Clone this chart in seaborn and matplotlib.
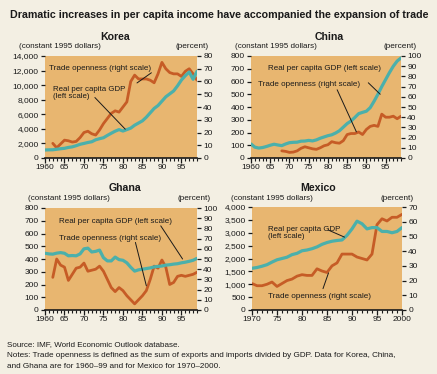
import matplotlib
matplotlib.use("Agg")
import matplotlib.pyplot as plt
import seaborn as sns
import pandas as pd
import numpy as np

# ---------------- data ----------------
korea_years = list(range(1960, 2000))
korea_gdp = [1100, 1120, 1130, 1200, 1270, 1330, 1450, 1530, 1690, 1880,
             2000, 2130, 2230, 2500, 2650, 2780, 3100, 3400, 3680, 3900,
             3700, 3900, 4100, 4500, 4800, 5100, 5600, 6200, 6800, 7200,
             7800, 8400, 8800, 9200, 9900, 10700, 11300, 11800, 10800, 11900]
korea_trade_years = list(range(1962, 2000))
korea_trade = [11.5, 8, 11, 14, 13.5, 12.5, 13, 16, 20, 21,
               19, 18, 22, 27, 31, 35, 37, 36, 40, 44,
               60, 65, 62, 62, 62, 61, 59, 66, 75, 70,
               67, 66, 66, 64, 68, 70, 66, 61]

china_years = list(range(1960, 2000))
china_gdp = [110, 85, 78, 82, 90, 100, 108, 102, 97, 110,
             120, 123, 124, 132, 133, 138, 134, 142, 155, 165,
             175, 182, 196, 214, 242, 270, 290, 318, 348, 358,
             367, 395, 445, 500, 560, 615, 670, 720, 760, 785]
china_trade_years = list(range(1968, 2000))
china_trade = [7, 6.5, 5.5, 5.8, 7, 9.5, 11, 10, 9, 8.5,
               10, 12, 13, 16, 15, 14.5, 17, 23, 24, 24,
               25.5, 23, 28, 31, 32, 31, 43, 40, 40, 41, 38.5, 41]

ghana_years = list(range(1960, 2000))
ghana_gdp = [445, 440, 438, 446, 450, 445, 425, 427, 425, 440,
             480, 485, 455, 460, 470, 410, 385, 385, 415, 395,
             390, 370, 335, 305, 315, 320, 325, 330, 338, 342,
             345, 352, 355, 360, 363, 370, 375, 382, 390, 405]
ghana_trade_years = list(range(1962, 2000))
ghana_trade = [32, 50, 44, 42, 29, 35, 41, 42, 46, 38,
               39, 40, 43, 38, 30, 22, 18, 22, 19, 14,
               10, 6, 10, 14, 19, 30, 43, 41, 49, 42,
               25, 27, 33, 34, 33, 34, 35, 37]

mexico_years = list(range(1970, 2001))
mexico_gdp = [1620, 1650, 1700, 1760, 1860, 1950, 2000, 2050, 2150, 2200,
              2300, 2330, 2380, 2450, 2550, 2620, 2670, 2700, 2720, 2900,
              3150, 3450, 3350, 3150, 3200, 3200, 3050, 3050, 3000, 3050, 3200]
mexico_trade = [18, 16.5, 16.5, 17.5, 19, 16, 18, 20, 21, 23,
                24, 23.5, 23.5, 28, 26.5, 25.5, 30, 32, 38, 38,
                38, 36, 35, 34, 38, 58, 62, 60.5, 63, 63, 65]

title = "Dramatic increases in per capita income have accompanied the expansion of trade"
source_note = "Source: IMF, World Economic Outlook database."
notes_1 = "Notes: Trade openness is defined as the sum of exports and imports divided by GDP. Data for Korea, China,"
notes_2 = "and Ghana are for 1960\u201399 and for Mexico for 1970\u20132000."

# ---------------- style ----------------
sns.set_theme(style="white")
plt.rcParams["font.family"] = ["Liberation Sans", "DejaVu Sans"]

BG = "#F3EFE3"
PANEL = "#E8B670"
ORANGE = "#C65C26"
TEAL = "#4BB0AB"
INK = "#1a1a1a"
TICK_FS = 6.0

W, H = 437, 374
fig = plt.figure(figsize=(W / 100, H / 100), dpi=100, facecolor=BG)
to_fit = []  # (text artist, target width in px)


def fx(x):
    return x / W


def fy(y):
    return 1 - y / H


t = fig.text(fx(219), fy(15), title, ha="center", va="center", fontsize=9,
             fontweight="bold", color=INK)
to_fit.append((t, 418))


def panel(rect_px, name, title_x, units_left_x, units_right_x, title_y,
          years, gdp, tyears, trade, xlim, xmajor, xlabels,
          lmax, lstep, rmax, rstep, annots):
    x0, y0, x1, y1 = rect_px
    ax = fig.add_axes([fx(x0), fy(y1), (x1 - x0) / W, (y1 - y0) / H])
    ax2 = ax.twinx()
    df1 = pd.DataFrame({"year": years, "value": gdp})
    df2 = pd.DataFrame({"year": tyears, "value": trade})
    sns.lineplot(data=df2, x="year", y="value", ax=ax2, color=ORANGE, lw=2.0)
    sns.lineplot(data=df1, x="year", y="value", ax=ax, color=TEAL, lw=2.3)
    ax.set_zorder(ax2.get_zorder() + 1)
    ax.patch.set_visible(False)
    ax2.patch.set_visible(True)
    ax2.set_facecolor(PANEL)

    ax.set_xlim(*xlim)
    ax.set_ylim(0, lmax)
    ax2.set_ylim(0, rmax)
    for a in (ax, ax2):
        a.set_xlabel("")
        a.set_ylabel("")
        a.grid(False)
        for s in a.spines.values():
            s.set_visible(False)

    lticks = np.arange(0, lmax + 1, lstep)
    ax.set_yticks(lticks)
    ax.set_yticklabels([f"{int(v):,}" for v in lticks])
    rticks = np.arange(0, rmax + 1, rstep)
    ax2.set_yticks(rticks)
    ax2.set_yticklabels([f"{int(v)}" for v in rticks])
    ax.set_xticks(xmajor)
    ax.set_xticklabels(xlabels)
    ax.set_xticks(np.arange(xlim[0], xlim[1] + 1, 1), minor=True)

    ax.spines["bottom"].set_visible(True)
    ax.spines["bottom"].set_color(INK)
    ax.spines["bottom"].set_linewidth(1.2)

    ax.tick_params(axis="x", which="major", direction="out", length=3.5, width=0.9,
                   color=INK, labelsize=TICK_FS, pad=1, labelcolor=INK, bottom=True)
    ax.tick_params(axis="x", which="minor", direction="out", length=2.2, width=0.8,
                   color=INK, bottom=True)
    ax.tick_params(axis="y", direction="out", length=3, width=0.9, color=INK,
                   labelsize=TICK_FS, pad=1.5, labelcolor=INK, left=True)
    ax2.tick_params(axis="y", direction="out", length=3, width=0.9, color=INK,
                    labelsize=TICK_FS, pad=1.5, labelcolor=INK, right=True)

    fig.text(fx(title_x), fy(title_y), name, ha="center", va="center",
             fontsize=7.6, fontweight="bold", color=INK)
    t2 = fig.text(fx(units_left_x), fy(title_y + 10), "(constant 1995 dollars)",
                  ha="left", va="center", fontsize=7, color=INK)
    to_fit.append((t2, 82))
    t3 = fig.text(fx(units_right_x), fy(title_y + 10), "(percent)",
                  ha="right", va="center", fontsize=7, color=INK)
    to_fit.append((t3, 33))

    for text, width, tx, ty, p0, p1 in annots:
        ta = ax.text(tx, ty, text, ha="left", va="center", fontsize=7, color=INK,
                     linespacing=1.0, zorder=5)
        to_fit.append((ta, width))
        ax.plot([p0[0], p1[0]], [p0[1], p1[1]], color=INK, lw=0.7, zorder=5)
    return ax


# Korea
panel((45, 56, 197, 158), "Korea", 115, 19, 209, 37,
      korea_years, korea_gdp, korea_trade_years, korea_trade,
      (1960, 1999), [1960, 1965, 1970, 1975, 1980, 1985, 1990, 1995],
      ["1960", "65", "70", "75", "80", "85", "90", "95"],
      14000, 2000, 80, 10,
      [("Trade openness (right scale)", 102, 1961.0, 12250, (1987.3, 11700), (1983.6, 10300)),
       ("Real per capita GDP\n(left scale)", 72, 1962.0, 8950, (1972.8, 8300), (1980.6, 3950))])

# China
panel((251, 56, 401, 158), "China", 329, 235, 417, 37,
      china_years, china_gdp, china_trade_years, china_trade,
      (1960, 1999), [1960, 1965, 1970, 1975, 1980, 1985, 1990, 1995],
      ["1960", "65", "70", "75", "80", "85", "90", "95"],
      800, 100, 100, 10,
      [("Real per capita GDP (left scale)", 112, 1964.4, 705, (1990.5, 590), (1993.6, 500)),
       ("Trade openness (right scale)", 102, 1961.8, 578, (1982.4, 535), (1987.4, 205))])

# Ghana
panel((45, 208, 197, 310), "Ghana", 125, 28, 211, 188,
      ghana_years, ghana_gdp, ghana_trade_years, ghana_trade,
      (1960, 1999), [1960, 1965, 1970, 1975, 1980, 1985, 1990, 1995],
      ["1960", "65", "70", "75", "80", "85", "90", "95"],
      800, 100, 100, 10,
      [("Real per capita GDP (left scale)", 112, 1963.6, 696, (1989.7, 660), (1995.3, 400)),
       ("Trade openness (right scale)", 102, 1963.6, 560, (1983.2, 530), (1986.0, 190))])

# Mexico
panel((252, 207, 402, 310), "Mexico", 318, 231, 414, 188,
      mexico_years, mexico_gdp, mexico_years, mexico_trade,
      (1970, 2000), [1970, 1975, 1980, 1985, 1990, 1995, 2000],
      ["1970", "75", "80", "85", "90", "95", "2000"],
      4000, 500, 70, 10,
      [("Real per capita GDP\n(left scale)", 72, 1973.2, 3000, (1985.2, 3110), (1988.5, 2830)),
       ("Trade openness (right scale)", 103, 1973.3, 520, (1984.2, 830), (1985.3, 1440))])

t = fig.text(fx(7), fy(345), source_note, ha="left", va="center", fontsize=6.6, color=INK)
to_fit.append((t, 173))
t = fig.text(fx(7), fy(355.5), notes_1, ha="left", va="center", fontsize=6.6, color=INK)
to_fit.append((t, 388))
t = fig.text(fx(7), fy(366), notes_2, ha="left", va="center", fontsize=6.6, color=INK)
to_fit.append((t, 213))

# fit text sizes to the widths measured on the reference
renderer = fig.canvas.get_renderer()
for artist, target in to_fit:
    w = artist.get_window_extent(renderer=renderer).width
    if w > 0:
        artist.set_fontsize(artist.get_fontsize() * target / w)

fig.savefig("out.png", dpi=100, facecolor=BG)
